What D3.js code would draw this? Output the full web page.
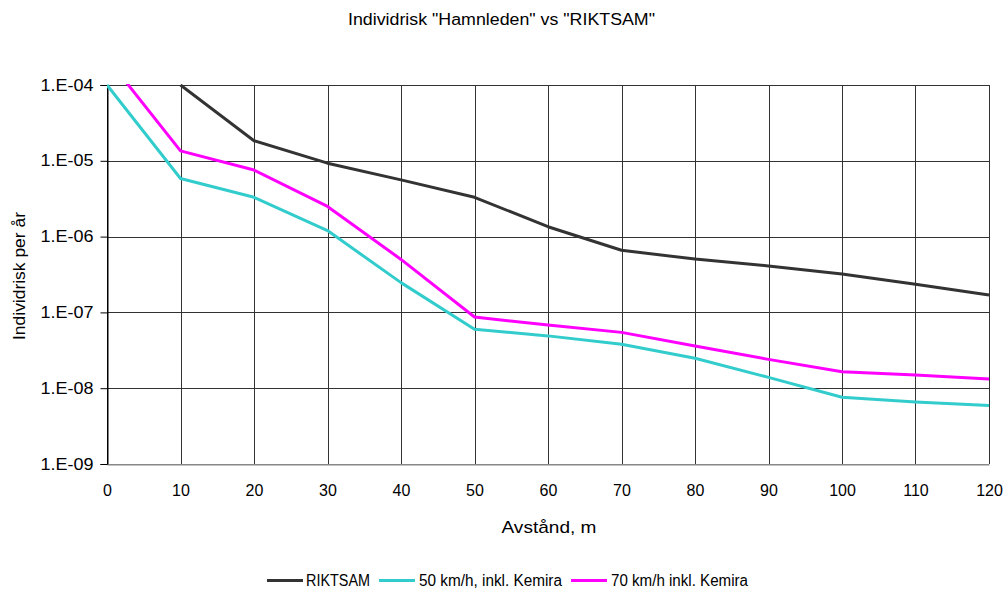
<!DOCTYPE html>
<html>
<head>
<meta charset="utf-8">
<script src="https://cdn.jsdelivr.net/npm/d3@7"></script>
<style>
  body { margin: 0; background: #fff; }
  svg { display: block; font-family: "Liberation Sans", Arial, sans-serif; }
</style>
</head>
<body>
<svg id="chart" width="1004" height="592"></svg>
<script>
// Distance from the road (m)
const distances = [0, 10, 20, 30, 40, 50, 60, 70, 80, 90, 100, 110, 120];

// Individual risk per year for each case
const riktsam = [null, 1.0e-4, 1.84e-5, 9.3e-6, 5.6e-6, 3.3e-6, 1.35e-6, 6.6e-7, 5.05e-7, 4.1e-7, 3.2e-7, 2.35e-7, 1.7e-7];
const kmh50 = [1.0e-4, 5.85e-6, 3.3e-6, 1.2e-6, 2.47e-7, 6.0e-8, 4.9e-8, 3.8e-8, 2.48e-8, 1.39e-8, 7.6e-9, 6.6e-9, 5.9e-9];
const kmh70 = [2.27e-4, 1.35e-5, 7.55e-6, 2.5e-6, 5.0e-7, 8.7e-8, 6.8e-8, 5.45e-8, 3.6e-8, 2.4e-8, 1.65e-8, 1.49e-8, 1.32e-8];

const xTicks = [0, 10, 20, 30, 40, 50, 60, 70, 80, 90, 100, 110, 120];
const yTicks = [1e-9, 1e-8, 1e-7, 1e-6, 1e-5, 1e-4];

const seriesNames = ["RIKTSAM", "50 km/h, inkl. Kemira", "70 km/h inkl. Kemira"];
const seriesColors = ["#333333", "#33CCCC", "#FF00FF"];
const seriesValues = [riktsam, kmh50, kmh70];

const svg = d3.select("#chart");
const plotLeft = 107, plotRight = 989, plotTop = 85, plotBottom = 464;

const x = d3.scaleLinear().domain([0, 120]).range([plotLeft, plotRight]);
const y = d3.scaleLog().domain([1e-9, 1e-4]).range([plotBottom, plotTop]);

const fmt = v => "1.E-" + String(Math.round(-Math.log10(v))).padStart(2, "0");

// Title
svg.append("text")
  .attr("x", 348).attr("y", 25)
  .attr("font-size", 16)
  .attr("textLength", 307)
  .attr("lengthAdjust", "spacingAndGlyphs")
  .attr("fill", "#000")
  .text('Individrisk "Hamnleden" vs "RIKTSAM"');

// Grid
const grid = svg.append("g");
grid.selectAll("line.h").data(yTicks).join("line")
  .attr("x1", plotLeft).attr("x2", plotRight)
  .attr("y1", d => Math.round(y(d)) + 0.5).attr("y2", d => Math.round(y(d)) + 0.5)
  .attr("stroke", d => d === 1e-9 ? "#888" : "#333").attr("stroke-width", 1);
grid.selectAll("line.v").data(xTicks).join("line")
  .attr("x1", d => Math.round(x(d)) + 0.5).attr("x2", d => Math.round(x(d)) + 0.5)
  .attr("y1", plotTop).attr("y2", plotBottom)
  .attr("stroke", d => d === 0 ? "#000" : "#333").attr("stroke-width", 1);

// Y axis
const yAxis = svg.append("g")
  .attr("transform", `translate(${plotLeft + 0.5},0)`)
  .call(d3.axisLeft(y).tickValues(yTicks).tickFormat(fmt).tickSize(7).tickPadding(7));
yAxis.select(".domain").attr("stroke", "#000");
yAxis.selectAll(".tick line").attr("stroke", "#000");
yAxis.selectAll("text").attr("font-size", 16).attr("fill", "#000")
  .attr("font-family", "Liberation Sans, Arial, sans-serif")
  .attr("textLength", 53).attr("lengthAdjust", "spacingAndGlyphs");

// X axis
const xAxis = svg.append("g")
  .attr("transform", `translate(0,${plotBottom + 0.5})`)
  .call(d3.axisBottom(x).tickValues(xTicks).tickFormat(d3.format("d")).tickSize(0).tickPadding(20));
xAxis.select(".domain").attr("stroke", "#888");
xAxis.selectAll("text").attr("font-size", 16).attr("fill", "#000")
  .attr("font-family", "Liberation Sans, Arial, sans-serif");

// Axis titles
svg.append("text")
  .attr("x", 549).attr("y", 533)
  .attr("text-anchor", "middle").attr("font-size", 17)
  .attr("textLength", 95).attr("lengthAdjust", "spacingAndGlyphs")
  .text("Avstånd, m");
svg.append("text")
  .attr("transform", "translate(25,276) rotate(-90)")
  .attr("text-anchor", "middle").attr("font-size", 16)
  .attr("textLength", 128).attr("lengthAdjust", "spacingAndGlyphs")
  .text("Individrisk per år");

// Series lines, clipped to the plot area
svg.append("clipPath").attr("id", "plot-clip")
  .append("rect").attr("x", plotLeft).attr("y", plotTop - 1)
  .attr("width", plotRight - plotLeft + 2).attr("height", plotBottom - plotTop + 1);

const line = d3.line()
  .defined(d => d.v != null)
  .x(d => x(d.x))
  .y(d => y(d.v));

const lines = svg.append("g").attr("clip-path", "url(#plot-clip)");
seriesValues.forEach((vals, i) => {
  const pts = distances.map((d, j) => ({ x: d, v: vals[j] }));
  lines.append("path")
    .datum(pts)
    .attr("d", line)
    .attr("fill", "none")
    .attr("stroke", seriesColors[i])
    .attr("stroke-width", 3)
    .attr("stroke-linejoin", "round");
});

// Legend
const legendItems = [
  { x: 267, tx: 306, w: 64 },
  { x: 379, tx: 419, w: 143 },
  { x: 571, tx: 611, w: 137 }
];
const legend = svg.append("g");
legendItems.forEach((it, i) => {
  legend.append("line")
    .attr("x1", it.x).attr("x2", it.x + 36)
    .attr("y1", 580.5).attr("y2", 580.5)
    .attr("stroke", seriesColors[i]).attr("stroke-width", 3);
  legend.append("text")
    .attr("x", it.tx).attr("y", 586)
    .attr("font-size", 16)
    .attr("textLength", it.w).attr("lengthAdjust", "spacingAndGlyphs")
    .text(seriesNames[i]);
});
</script>
</body>
</html>
